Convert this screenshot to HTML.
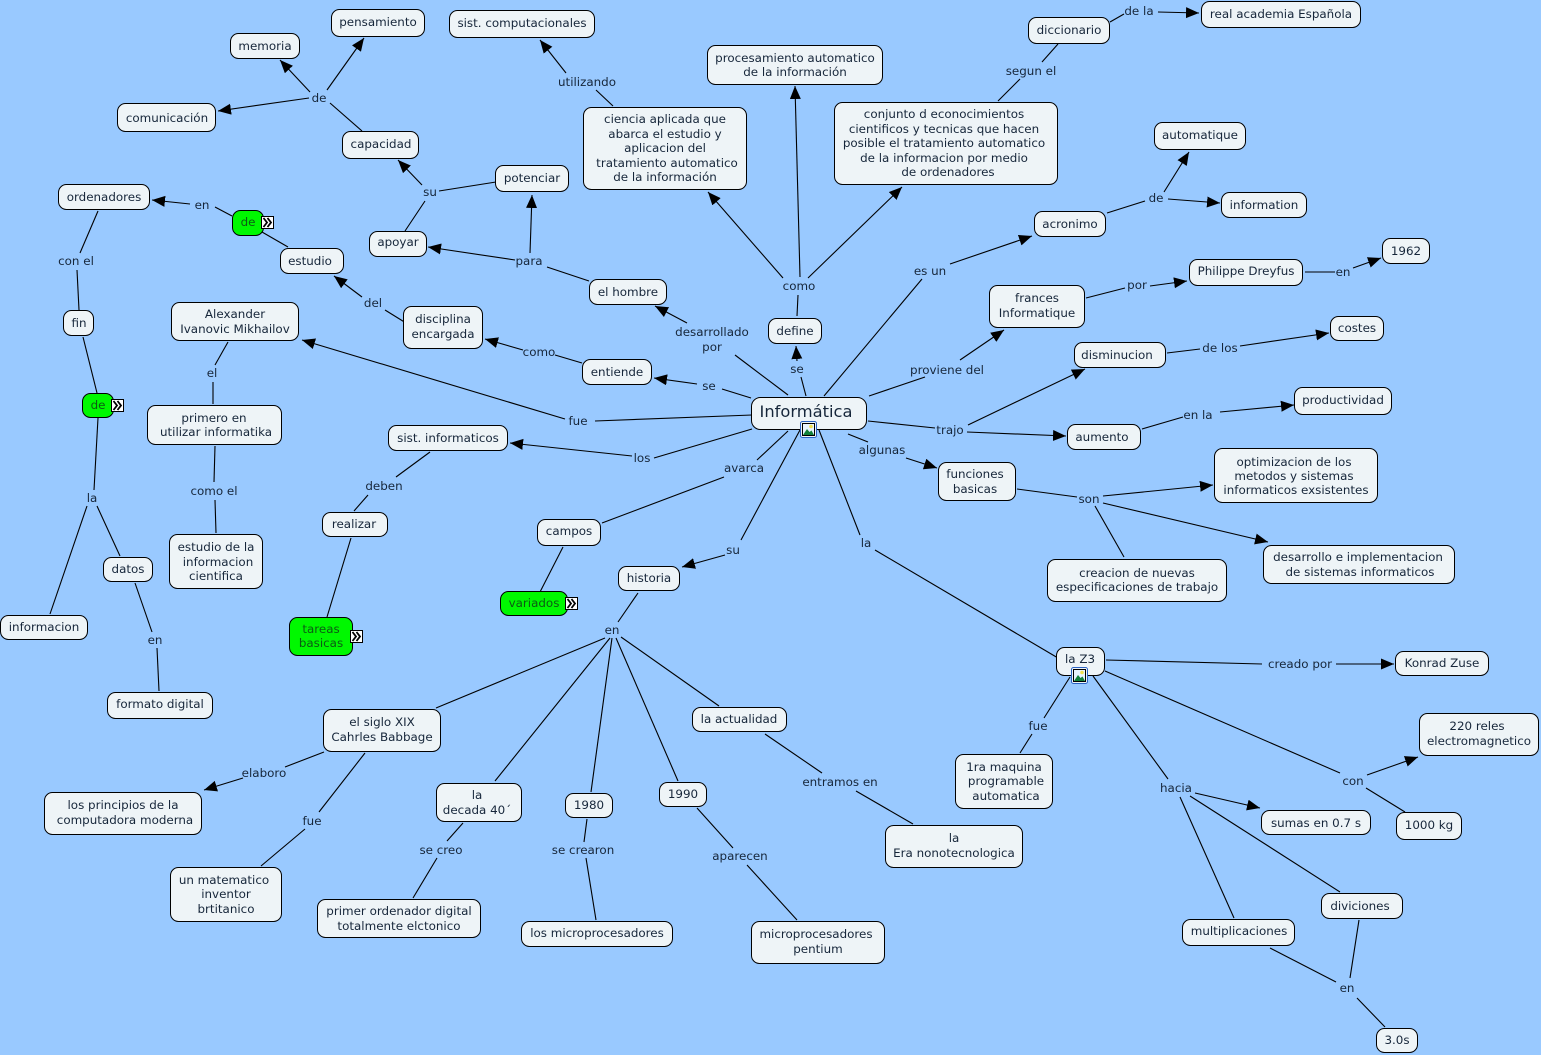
<!DOCTYPE html>
<html><head><meta charset="utf-8"><style>
html,body{margin:0;padding:0;background:#99c9ff;width:1541px;height:1055px;overflow:hidden}
svg{display:block}
.n rect{fill:#eef4f7;stroke:#000;stroke-width:1}
.g rect{fill:#00f800;stroke:#000;stroke-width:1}
text{font-family:"DejaVu Sans","Liberation Sans",sans-serif;font-size:11.9px;fill:#16263a;text-anchor:middle}
text.gt{fill:#0c5c14}
.l line{stroke:#000;stroke-width:1.1}
.a line{stroke:#000;stroke-width:1.1;marker-end:url(#h)}
</style></head><body>
<svg width="1541" height="1055" viewBox="0 0 1541 1055" xmlns="http://www.w3.org/2000/svg">
<defs>
<marker id="h" markerUnits="userSpaceOnUse" markerWidth="14" markerHeight="12" refX="13" refY="5.5" orient="auto"><path d="M0 0L13 5.5L0 11Z" fill="#000"/></marker>
<g id="ex"><rect x="0" y="0" width="12" height="12" fill="#fff" stroke="#000"/><path d="M2 1.500L5.500 6L2 10.500M6 1.500L9.500 6L6 10.500" fill="none" stroke="#000" stroke-width="1.800"/></g>
<g id="im"><rect x="-1.500" y="-1.500" width="16" height="16" rx="2" fill="#eef4f7" stroke="#2a62c4" stroke-width="1"/><rect x="0.500" y="0.500" width="12" height="12" fill="#e8f3ff" stroke="#000" stroke-width="1"/><circle cx="9" cy="3.500" r="1.800" fill="#f2e050"/><path d="M1 12L5 6L7.500 9L9.500 7.500L12 12Z" fill="#12803a"/></g>
</defs>
<g class="l">
<line x1="362" y1="131" x2="330" y2="103"/>
<line x1="496" y1="182" x2="439" y2="191"/>
<line x1="405" y1="231" x2="425" y2="201"/>
<line x1="589" y1="281" x2="547" y2="267"/>
<line x1="788" y1="395" x2="735" y2="355"/>
<line x1="806" y1="396" x2="801" y2="377"/>
<line x1="797" y1="316" x2="798" y2="295"/>
<line x1="613" y1="106" x2="596" y2="90"/>
<line x1="998" y1="101" x2="1020" y2="79"/>
<line x1="1042" y1="62" x2="1058" y2="44"/>
<line x1="1110" y1="22" x2="1124" y2="14"/>
<line x1="1107" y1="213" x2="1145" y2="201"/>
<line x1="824" y1="396" x2="922" y2="279"/>
<line x1="869" y1="396" x2="925" y2="377"/>
<line x1="1086" y1="298" x2="1125" y2="288"/>
<line x1="1305" y1="272" x2="1335" y2="272"/>
<line x1="868" y1="421" x2="935" y2="428"/>
<line x1="1167" y1="353" x2="1200" y2="349"/>
<line x1="1142" y1="429" x2="1183" y2="417"/>
<line x1="848" y1="434" x2="868" y2="442"/>
<line x1="1017" y1="489" x2="1077" y2="497"/>
<line x1="1124" y1="557" x2="1095" y2="506"/>
<line x1="819" y1="430" x2="860" y2="535"/>
<line x1="875" y1="550" x2="1058" y2="658"/>
<line x1="1106" y1="660" x2="1262" y2="664"/>
<line x1="1105" y1="671" x2="1340" y2="773"/>
<line x1="1366" y1="788" x2="1405" y2="812"/>
<line x1="1070" y1="677" x2="1044" y2="718"/>
<line x1="1032" y1="734" x2="1020" y2="753"/>
<line x1="1093" y1="676" x2="1168" y2="779"/>
<line x1="1190" y1="796" x2="1340" y2="892"/>
<line x1="1180" y1="797" x2="1234" y2="918"/>
<line x1="1359" y1="920" x2="1350" y2="978"/>
<line x1="1270" y1="948" x2="1336" y2="982"/>
<line x1="1357" y1="998" x2="1385" y2="1027"/>
<line x1="752" y1="415" x2="595" y2="421"/>
<line x1="228" y1="342" x2="215" y2="365"/>
<line x1="213" y1="404" x2="213" y2="382"/>
<line x1="215" y1="446" x2="214" y2="482"/>
<line x1="215" y1="500" x2="216" y2="533"/>
<line x1="751" y1="398" x2="722" y2="389"/>
<line x1="582" y1="363" x2="555" y2="355"/>
<line x1="406" y1="323" x2="385" y2="310"/>
<line x1="288" y1="247" x2="262" y2="232"/>
<line x1="232" y1="216" x2="215" y2="207"/>
<line x1="98" y1="211" x2="80" y2="253"/>
<line x1="79" y1="310" x2="77" y2="270"/>
<line x1="83" y1="337" x2="97" y2="393"/>
<line x1="98" y1="418" x2="94" y2="490"/>
<line x1="87" y1="506" x2="50" y2="614"/>
<line x1="97" y1="506" x2="120" y2="556"/>
<line x1="135" y1="583" x2="152" y2="632"/>
<line x1="157" y1="648" x2="159" y2="691"/>
<line x1="752" y1="429" x2="654" y2="458"/>
<line x1="430" y1="452" x2="396" y2="477"/>
<line x1="368" y1="495" x2="354" y2="511"/>
<line x1="351" y1="538" x2="327" y2="617"/>
<line x1="788" y1="431" x2="757" y2="460"/>
<line x1="724" y1="477" x2="602" y2="523"/>
<line x1="563" y1="547" x2="540" y2="592"/>
<line x1="800" y1="430" x2="741" y2="540"/>
<line x1="638" y1="593" x2="618" y2="622"/>
<line x1="605" y1="638" x2="436" y2="708"/>
<line x1="610" y1="638" x2="495" y2="781"/>
<line x1="612" y1="638" x2="591" y2="792"/>
<line x1="616" y1="638" x2="678" y2="781"/>
<line x1="621" y1="637" x2="719" y2="706"/>
<line x1="324" y1="752" x2="285" y2="767"/>
<line x1="365" y1="753" x2="319" y2="812"/>
<line x1="305" y1="829" x2="261" y2="866"/>
<line x1="463" y1="823" x2="447" y2="841"/>
<line x1="437" y1="858" x2="413" y2="898"/>
<line x1="587" y1="819" x2="584" y2="842"/>
<line x1="586" y1="858" x2="596" y2="920"/>
<line x1="697" y1="808" x2="733" y2="848"/>
<line x1="747" y1="865" x2="797" y2="920"/>
<line x1="765" y1="734" x2="822" y2="773"/>
<line x1="856" y1="791" x2="913" y2="824"/>
</g>
<g class="a">
<line x1="327" y1="90" x2="364" y2="38"/>
<line x1="310" y1="92" x2="280" y2="60"/>
<line x1="309" y1="98" x2="218" y2="111"/>
<line x1="422" y1="185" x2="398" y2="160"/>
<line x1="515" y1="260" x2="428" y2="247"/>
<line x1="530" y1="253" x2="532" y2="195"/>
<line x1="687" y1="323" x2="655" y2="306"/>
<line x1="797" y1="361" x2="796" y2="346"/>
<line x1="783" y1="278" x2="708" y2="192"/>
<line x1="800" y1="277" x2="795" y2="86"/>
<line x1="808" y1="278" x2="902" y2="187"/>
<line x1="566" y1="73" x2="540" y2="40"/>
<line x1="1158" y1="12" x2="1199" y2="13"/>
<line x1="1164" y1="192" x2="1189" y2="152"/>
<line x1="1168" y1="199" x2="1220" y2="203"/>
<line x1="950" y1="264" x2="1032" y2="236"/>
<line x1="960" y1="360" x2="1004" y2="330"/>
<line x1="1150" y1="286" x2="1187" y2="281"/>
<line x1="1353" y1="268" x2="1381" y2="258"/>
<line x1="967" y1="432" x2="1066" y2="436"/>
<line x1="968" y1="425" x2="1085" y2="369"/>
<line x1="1240" y1="346" x2="1329" y2="333"/>
<line x1="1220" y1="412" x2="1294" y2="405"/>
<line x1="906" y1="458" x2="937" y2="468"/>
<line x1="1103" y1="496" x2="1213" y2="485"/>
<line x1="1103" y1="503" x2="1268" y2="542"/>
<line x1="1336" y1="664" x2="1394" y2="664"/>
<line x1="1367" y1="775" x2="1418" y2="757"/>
<line x1="1195" y1="793" x2="1260" y2="808"/>
<line x1="565" y1="419" x2="302" y2="340"/>
<line x1="697" y1="384" x2="654" y2="378"/>
<line x1="523" y1="350" x2="485" y2="339"/>
<line x1="362" y1="297" x2="334" y2="276"/>
<line x1="190" y1="204" x2="152" y2="200"/>
<line x1="632" y1="456" x2="510" y2="443"/>
<line x1="725" y1="555" x2="682" y2="567"/>
<line x1="243" y1="778" x2="204" y2="790"/>
</g>
<g class="n">
<rect x="331.500" y="9.500" width="93" height="27" rx="8"/>
<rect x="230.500" y="33.500" width="69" height="25" rx="8"/>
<rect x="449.500" y="10.500" width="145" height="27" rx="8"/>
<rect x="117.500" y="103.500" width="98" height="28" rx="8"/>
<rect x="342.500" y="131.500" width="76" height="27" rx="8"/>
<rect x="495.500" y="165.500" width="73" height="26" rx="8"/>
<rect x="583.500" y="107.500" width="163" height="82" rx="8"/>
<rect x="707.500" y="45.500" width="175" height="39" rx="8"/>
<rect x="834.500" y="102.500" width="223" height="82" rx="8"/>
<rect x="1028.500" y="17.500" width="81" height="26" rx="8"/>
<rect x="1201.500" y="1.500" width="159" height="26" rx="8"/>
<rect x="1154.500" y="122.500" width="91" height="27" rx="8"/>
<rect x="1221.500" y="192.500" width="85" height="25" rx="8"/>
<rect x="1034.500" y="211.500" width="71" height="25" rx="8"/>
<rect x="369.500" y="231.500" width="57" height="25" rx="8"/>
<rect x="58.500" y="184.500" width="91" height="25" rx="8"/>
<rect x="280.500" y="248.500" width="63" height="25" rx="8"/>
<rect x="171.500" y="302.500" width="127" height="38" rx="8"/>
<rect x="63.500" y="310.500" width="30" height="25" rx="8"/>
<rect x="403.500" y="306.500" width="79" height="42" rx="8"/>
<rect x="589.500" y="279.500" width="77" height="25" rx="8"/>
<rect x="768.500" y="318.500" width="53" height="25" rx="8"/>
<rect x="582.500" y="359.500" width="69" height="25" rx="8"/>
<rect x="989.500" y="285.500" width="95" height="42" rx="8"/>
<rect x="1189.500" y="259.500" width="113" height="26" rx="8"/>
<rect x="1382.500" y="238.500" width="47" height="25" rx="8"/>
<rect x="1330.500" y="316.500" width="53" height="24" rx="8"/>
<rect x="1074.500" y="342.500" width="91" height="25" rx="8"/>
<rect x="1294.500" y="387.500" width="97" height="27" rx="8"/>
<rect x="1067.500" y="424.500" width="73" height="25" rx="8"/>
<rect x="751.500" y="397.500" width="115" height="32" rx="9"/>
<rect x="388.500" y="425.500" width="119" height="25" rx="8"/>
<rect x="147.500" y="405.500" width="134" height="39" rx="8"/>
<rect x="1214.500" y="448.500" width="163" height="54" rx="8"/>
<rect x="938.500" y="462.500" width="77" height="38" rx="8"/>
<rect x="322.500" y="512.500" width="65" height="24" rx="8"/>
<rect x="537.500" y="519.500" width="63" height="26" rx="8"/>
<rect x="1263.500" y="545.500" width="191" height="38" rx="8"/>
<rect x="1047.500" y="559.500" width="179" height="42" rx="8"/>
<rect x="169.500" y="534.500" width="93" height="54" rx="8"/>
<rect x="103.500" y="557.500" width="49" height="24" rx="8"/>
<rect x="618.500" y="566.500" width="61" height="24" rx="8"/>
<rect x="0.500" y="615.500" width="87" height="24" rx="8"/>
<rect x="1056.500" y="647.500" width="48" height="28" rx="8"/>
<rect x="1395.500" y="651.500" width="93" height="24" rx="8"/>
<rect x="692.500" y="707.500" width="94" height="24" rx="8"/>
<rect x="107.500" y="692.500" width="105" height="26" rx="8"/>
<rect x="323.500" y="709.500" width="117" height="42" rx="8"/>
<rect x="1419.500" y="713.500" width="119" height="42" rx="8"/>
<rect x="659.500" y="782.500" width="47" height="24" rx="8"/>
<rect x="436.500" y="783.500" width="85" height="38" rx="8"/>
<rect x="565.500" y="793.500" width="47" height="24" rx="8"/>
<rect x="1261.500" y="810.500" width="109" height="24" rx="8"/>
<rect x="1396.500" y="812.500" width="65" height="27" rx="8"/>
<rect x="44.500" y="792.500" width="157" height="42" rx="8"/>
<rect x="955.500" y="754.500" width="97" height="54" rx="8"/>
<rect x="885.500" y="825.500" width="137" height="42" rx="8"/>
<rect x="170.500" y="867.500" width="111" height="54" rx="8"/>
<rect x="1321.500" y="893.500" width="81" height="25" rx="8"/>
<rect x="317.500" y="899.500" width="163" height="38" rx="8"/>
<rect x="1182.500" y="919.500" width="112" height="26" rx="8"/>
<rect x="521.500" y="921.500" width="151" height="25" rx="8"/>
<rect x="751.500" y="921.500" width="133" height="42" rx="8"/>
<rect x="1376.500" y="1028.500" width="41" height="24" rx="8"/>
</g>
<g class="g">
<rect x="232.500" y="210.500" width="31" height="25" rx="8"/>
<rect x="82.500" y="393.500" width="31" height="24" rx="8"/>
<rect x="500.500" y="591.500" width="67" height="24" rx="8"/>
<rect x="289.500" y="617.500" width="63" height="38" rx="8"/>
</g>
<use href="#ex" x="261.500" y="216.500"/>
<use href="#ex" x="111.500" y="399.500"/>
<use href="#ex" x="565.500" y="597.500"/>
<use href="#ex" x="350.500" y="630.500"/>
<use href="#im" x="802" y="423"/>
<use href="#im" x="1073" y="669"/>
<g>
<text x="378" y="26">pensamiento</text>
<text x="265" y="50">memoria</text>
<text x="522" y="27">sist. computacionales</text>
<text x="167" y="122">comunicación</text>
<text x="381" y="148">capacidad</text>
<text x="532" y="182">potenciar</text>
<text x="665" y="123">ciencia aplicada que</text>
<text x="665" y="138">abarca el estudio y</text>
<text x="665" y="152">aplicacion del</text>
<text x="667" y="167">tratamiento automatico</text>
<text x="665" y="181">de la información</text>
<text x="795" y="62">procesamiento automatico</text>
<text x="795" y="76">de la información</text>
<text x="944" y="118">conjunto d econocimientos</text>
<text x="944" y="133">cientificos y tecnicas que hacen</text>
<text x="944" y="147">posible el tratamiento automatico</text>
<text x="944" y="162">de la informacion por medio</text>
<text x="948" y="176">de ordenadores</text>
<text x="1069" y="34">diccionario</text>
<text x="1281" y="18">real academia Española</text>
<text x="1200" y="139">automatique</text>
<text x="1264" y="209">information</text>
<text x="1070" y="228">acronimo</text>
<text x="398" y="246">apoyar</text>
<text x="104" y="201">ordenadores</text>
<text class="gt" x="248" y="226">de</text>
<text x="310" y="265">estudio</text>
<text x="235" y="318">Alexander</text>
<text x="235" y="333">Ivanovic Mikhailov</text>
<text x="79" y="327">fin</text>
<text x="443" y="323">disciplina</text>
<text x="443" y="338">encargada</text>
<text x="628" y="296">el hombre</text>
<text x="795" y="335">define</text>
<text x="617" y="376">entiende</text>
<text x="1037" y="302">frances</text>
<text x="1037" y="317">Informatique</text>
<text x="1246" y="275">Philippe Dreyfus</text>
<text x="1406" y="255">1962</text>
<text x="1357" y="332">costes</text>
<text x="1117" y="359">disminucion</text>
<text x="1343" y="404">productividad</text>
<text x="1102" y="441">aumento</text>
<text x="806" y="417" style="font-size:16.300px">Informática</text>
<text x="448" y="442">sist. informaticos</text>
<text class="gt" x="98" y="409">de</text>
<text x="214" y="422">primero en</text>
<text x="216" y="436">utilizar informatika</text>
<text x="1294" y="466">optimizacion de los</text>
<text x="1294" y="480">metodos y sistemas</text>
<text x="1296" y="494">informaticos exsistentes</text>
<text x="975" y="478">funciones</text>
<text x="975" y="493">basicas</text>
<text x="354" y="528">realizar</text>
<text x="569" y="535">campos</text>
<text x="1358" y="561">desarrollo e implementacion</text>
<text x="1360" y="576">de sistemas informaticos</text>
<text x="1137" y="577">creacion de nuevas</text>
<text x="1137" y="591">especificaciones de trabajo</text>
<text x="216" y="551">estudio de la</text>
<text x="218" y="566">informacion</text>
<text x="216" y="580">cientifica</text>
<text x="128" y="573">datos</text>
<text x="649" y="582">historia</text>
<text class="gt" x="534" y="607">variados</text>
<text class="gt" x="321" y="633">tareas</text>
<text class="gt" x="321" y="647">basicas</text>
<text x="44" y="631">informacion</text>
<text x="1080" y="663">la Z3</text>
<text x="1442" y="667">Konrad Zuse</text>
<text x="739" y="723">la actualidad</text>
<text x="160" y="708">formato digital</text>
<text x="382" y="726">el siglo XIX</text>
<text x="382" y="741">Cahrles Babbage</text>
<text x="1477" y="730">220 reles</text>
<text x="1479" y="745">electromagnetico</text>
<text x="683" y="798">1990</text>
<text x="477" y="799">la</text>
<text x="477" y="814">decada 40´</text>
<text x="589" y="809">1980</text>
<text x="1316" y="827">sumas en 0.7 s</text>
<text x="1429" y="829">1000 kg</text>
<text x="123" y="809">los principios de la</text>
<text x="125" y="824">computadora moderna</text>
<text x="1004" y="771">1ra maquina</text>
<text x="1006" y="785">programable</text>
<text x="1006" y="800">automatica</text>
<text x="954" y="842">la</text>
<text x="954" y="857">Era nonotecnologica</text>
<text x="224" y="884">un matematico</text>
<text x="226" y="898">inventor</text>
<text x="226" y="913">brtitanico</text>
<text x="1360" y="910">diviciones</text>
<text x="399" y="915">primer ordenador digital</text>
<text x="399" y="930">totalmente elctonico</text>
<text x="1239" y="935">multiplicaciones</text>
<text x="597" y="937">los microprocesadores</text>
<text x="816" y="938">microprocesadores</text>
<text x="818" y="953">pentium</text>
<text x="1397" y="1044">3.0s</text>
<text x="319" y="102">de</text>
<text x="430" y="196">su</text>
<text x="529" y="265">para</text>
<text x="712" y="336">desarrollado</text>
<text x="712" y="351">por</text>
<text x="797" y="373">se</text>
<text x="799" y="290">como</text>
<text x="587" y="86">utilizando</text>
<text x="1031" y="75">segun el</text>
<text x="1139" y="15">de la</text>
<text x="1156" y="202">de</text>
<text x="930" y="275">es un</text>
<text x="947" y="374">proviene del</text>
<text x="1137" y="289">por</text>
<text x="1343" y="276">en</text>
<text x="950" y="434">trajo</text>
<text x="1220" y="352">de los</text>
<text x="1198" y="419">en la</text>
<text x="882" y="454">algunas</text>
<text x="1089" y="503">son</text>
<text x="866" y="547">la</text>
<text x="1300" y="668">creado por</text>
<text x="1353" y="785">con</text>
<text x="1038" y="730">fue</text>
<text x="1176" y="792">hacia</text>
<text x="1347" y="992">en</text>
<text x="578" y="425">fue</text>
<text x="212" y="377">el</text>
<text x="214" y="495">como el</text>
<text x="709" y="390">se</text>
<text x="539" y="356">como</text>
<text x="373" y="307">del</text>
<text x="202" y="209">en</text>
<text x="76" y="265">con el</text>
<text x="92" y="502">la</text>
<text x="155" y="644">en</text>
<text x="642" y="462">los</text>
<text x="384" y="490">deben</text>
<text x="744" y="472">avarca</text>
<text x="733" y="554">su</text>
<text x="612" y="634">en</text>
<text x="264" y="777">elaboro</text>
<text x="312" y="825">fue</text>
<text x="441" y="854">se creo</text>
<text x="583" y="854">se crearon</text>
<text x="740" y="860">aparecen</text>
<text x="840" y="786">entramos en</text>
</g>
</svg>
</body></html>
